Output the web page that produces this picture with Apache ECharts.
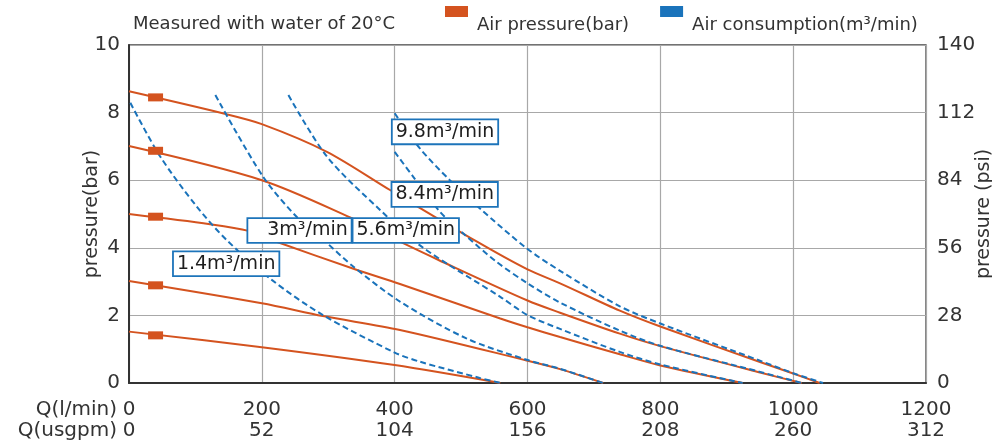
<!DOCTYPE html>
<html>
<head>
<meta charset="utf-8">
<script src="https://cdn.jsdelivr.net/npm/echarts@6/dist/echarts.min.js"></script>
<style>
html,body{margin:0;padding:0;background:#fff;}
#c{width:992px;height:445px;}
</style>
</head>
<body>
<div id="c"></div>
<script>
// ---- data ----
const lpmTicks = [0, 200, 400, 600, 800, 1000, 1200];
const usgpmTicks = [0, 52, 104, 156, 208, 260, 312];
const barTicks = [0, 2, 4, 6, 8, 10];
const psiTicks = [0, 28, 56, 84, 112, 140];

// Air pressure curves [flow l/min, pressure bar]
const pressure86 = [[0,8.63],[141,7.98],[200,7.66],[298,6.84],[393,5.71],[524,4.18],[600,3.36],[649,2.95],[739,2.14],[800,1.67],[950,0.62],[1000,0.28],[1040,0]];
const pressure70 = [[0,7.01],[200,6.0],[333,4.90],[408,4.18],[466,3.64],[600,2.44],[649,2.08],[739,1.46],[800,1.09],[950,0.31],[1013,0]];
const pressure50 = [[0,5.0],[122,4.70],[180,4.50],[222,4.18],[338,3.38],[408,2.93],[559,1.91],[600,1.65],[649,1.36],[739,0.85],[800,0.52],[924,0]];
const pressure30 = [[0,3.02],[200,2.36],[292,1.98],[408,1.57],[600,0.66],[649,0.41],[714,0]];
const pressure15 = [[0,1.52],[200,1.06],[400,0.53],[559,0]];

// Air consumption curves [flow l/min, pressure bar]
const consumption14 = [[2,8.29],[47,6.70],[102,5.22],[147,4.23],[215,3.05],[292,2.01],[400,0.90],[438,0.63],[528,0.15],[560,0]];
const consumption30 = [[130,8.52],[202,6.10],[257,4.82],[293,4.23],[338,3.44],[408,2.41],[508,1.32],[600,0.68],[649,0.42],[714,0]];
const consumption56 = [[240,8.52],[298,6.70],[378,5.12],[443,4.00],[559,2.55],[600,2.01],[649,1.60],[739,0.92],[800,0.55],[924,0]];
const consumption84 = [[400,6.84],[428,6.10],[468,5.07],[503,4.43],[553,3.59],[600,2.95],[649,2.38],[739,1.55],[800,1.10],[950,0.33],[1013,0]];
const consumption98 = [[400,7.98],[438,6.94],[483,6.00],[528,5.17],[599,3.98],[649,3.32],[739,2.27],[800,1.76],[950,0.66],[1000,0.29],[1045,0]];

// square markers on the pressure curves
const markerFlow = [40, 40, 40, 40, 40];
const markerPressure = [8.45, 6.87, 4.92, 2.89, 1.41];

// consumption labels and where they sit (flow, bar)
const consumptionNames = ['1.4m³/min', '3m³/min', '5.6m³/min', '8.4m³/min', '9.8m³/min'];
const labelFlow = [146.3, 256.7, 416.7, 475.3, 475.8];
const labelPressure = [3.53, 4.51, 4.51, 5.58, 7.43];

// ---- chart ----
const FONT = 'DejaVu Sans';
const ORANGE = '#d4531f';
const BLUE = '#1a73bb';
const TXT = '#333';
const PRESS_NAME = 'Air pressure(bar)';
const CONS_NAME = 'Air consumption(m³/min)';
// legend icon: 23x11 square at the top of a taller box (so the text sits lower)
const LEGEND_ICON = 'path://M0,0H23V11H0Z M0,37.9H0.02V38H0Z';

const series = [];
[pressure86, pressure70, pressure50, pressure30, pressure15].forEach(d => {
  series.push({
    type: 'line', name: PRESS_NAME, data: d, smooth: 0.3,
    symbol: 'none', silent: true, z: 2,
    lineStyle: {color: ORANGE, width: 2}, itemStyle: {color: ORANGE}
  });
});
[consumption14, consumption30, consumption56, consumption84, consumption98].forEach(d => {
  series.push({
    type: 'line', name: CONS_NAME, data: d, smooth: 0.3,
    symbol: 'none', silent: true, z: 3,
    lineStyle: {color: BLUE, width: 2, type: [6, 3.5]}, itemStyle: {color: BLUE}
  });
});
series.push({
  type: 'scatter', name: 'markers', silent: true, z: 4,
  symbol: 'rect', symbolSize: [15, 8],
  itemStyle: {color: ORANGE, opacity: 1},
  data: markerFlow.map((x, i) => [x, markerPressure[i]])
});
series.push({
  type: 'scatter', name: 'labels', silent: true, z: 5,
  symbolSize: 0,
  itemStyle: {opacity: 1},
  data: labelFlow.map((x, i) => {
    const item = {value: [x, labelPressure[i]], name: consumptionNames[i]};
    if (i === 1) item.label = {padding: [1, 3, 1, 19]};
    return item;
  }),
  label: {
    show: true, position: 'inside', formatter: p => p.name,
    fontFamily: FONT, fontSize: 19, lineHeight: 21, color: '#1e1e1e', opacity: 1,
    backgroundColor: '#fff', borderColor: '#1d74ba', borderWidth: 1.8,
    padding: [1, 3, 1, 3]
  }
});

const chart = echarts.init(document.getElementById('c'), null, {renderer: 'canvas'});
chart.setOption({
  animation: false,
  backgroundColor: '#fff',
  textStyle: {fontFamily: FONT},
  title: {
    text: 'Measured with water of 20°C', left: 133, top: 15, padding: 0,
    textStyle: {fontFamily: FONT, fontSize: 18, fontWeight: 'normal', color: TXT}
  },
  legend: {
    left: 445, top: 6, padding: 0, itemWidth: 23, itemHeight: 38, itemGap: 31,
    selectedMode: false,
    data: [{name: PRESS_NAME, icon: LEGEND_ICON}, {name: CONS_NAME, icon: LEGEND_ICON}],
    itemStyle: {borderWidth: 0},
    textStyle: {fontFamily: FONT, fontSize: 18, color: TXT, padding: [0, 0, 0, 4]}
  },
  grid: {
    left: 129, right: 66, top: 45, bottom: 62, containLabel: false, outerBoundsMode: 'none',
    show: true, borderColor: '#444', borderWidth: 1.3, backgroundColor: 'transparent'
  },
  xAxis: {
    type: 'value', min: lpmTicks[0], max: lpmTicks[lpmTicks.length - 1], interval: 200,
    name: 'Q(l/min)\nQ(usgpm)', nameLocation: 'start', nameGap: 12, nameMoveOverlap: false,
    nameTextStyle: {fontFamily: FONT, fontSize: 20, color: TXT, align: 'right', verticalAlign: 'top', lineHeight: 21.5, padding: [16, 0, 0, 0]},
    axisLine: {show: true, onZero: false, lineStyle: {color: '#333', width: 2}},
    axisTick: {show: false},
    axisLabel: {
      fontFamily: FONT, fontSize: 20, color: TXT, lineHeight: 21.5, margin: 16,
      formatter: v => { const i = lpmTicks.indexOf(v); return v + '\n' + usgpmTicks[i]; }
    },
    splitLine: {show: true, lineStyle: {color: '#a8a8a8', width: 1.2}}
  },
  yAxis: [{
    type: 'value', min: barTicks[0], max: barTicks[barTicks.length - 1], interval: 2, position: 'left',
    name: 'pressure(bar)', nameLocation: 'middle', nameGap: 27, nameMoveOverlap: false,
    nameTextStyle: {fontFamily: FONT, fontSize: 19, color: TXT},
    axisLine: {show: true, onZero: false, lineStyle: {color: '#333', width: 2}},
    axisTick: {show: false},
    axisLabel: {fontFamily: FONT, fontSize: 20, color: TXT, margin: 9},
    splitLine: {show: true, lineStyle: {color: '#a8a8a8', width: 1.2}}
  }, {
    type: 'value', min: psiTicks[0], max: psiTicks[psiTicks.length - 1], interval: 28, position: 'right',
    name: 'pressure (psi)', nameLocation: 'middle', nameGap: 49, nameRotate: 90, nameMoveOverlap: false,
    nameTextStyle: {fontFamily: FONT, fontSize: 19, color: TXT},
    axisLine: {show: false, onZero: false},
    axisTick: {show: false},
    axisLabel: {fontFamily: FONT, fontSize: 20, color: TXT, margin: 11},
    splitLine: {show: false}
  }],
  series: series
});
</script>
</body>
</html>
